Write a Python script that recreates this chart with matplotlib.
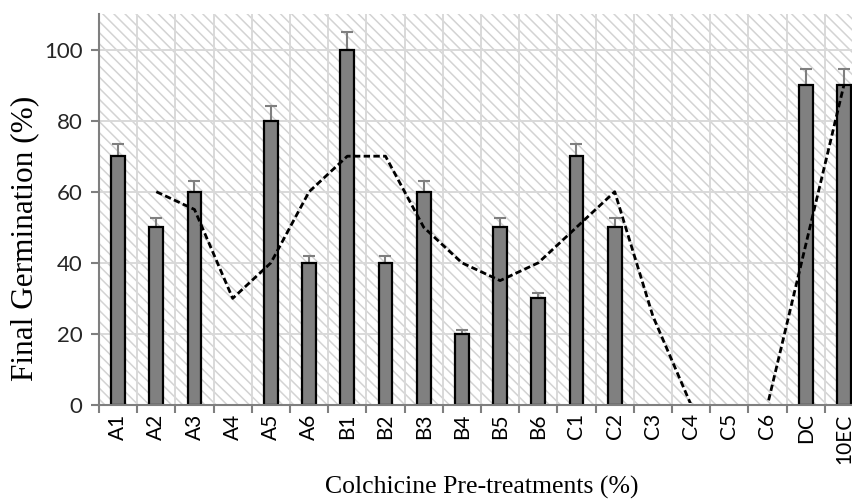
import matplotlib
matplotlib.use("Agg")
import matplotlib.pyplot as plt
from matplotlib.patches import Rectangle
import numpy as np

categories = ["A1", "A2", "A3", "A4", "A5", "A6", "B1", "B2", "B3", "B4",
              "B5", "B6", "C1", "C2", "C3", "C4", "C5", "C6", "DC", "10EC"]
germination = [70, 50, 60, 0, 80, 40, 100, 40, 60, 20,
               50, 30, 70, 50, 0, 0, 0, 0, 90, 90]
err_upper = [3.5, 2.5, 3.0, 0, 4.0, 2.0, 5.0, 2.0, 3.0, 1.0,
             2.5, 1.5, 3.5, 2.5, 0, 0, 0, 0, 4.5, 4.5]
# dashed trend line (starts at A2)
trend = [np.nan, 60, 55, 30, 40, 60, 70, 70, 50, 40,
         35, 40, 50, 60, 25, 0, 0, 0, 45, 90]
yticks = [0, 20, 40, 60, 80, 100]

plt.rcParams['hatch.linewidth'] = 1.1

fig = plt.figure(figsize=(8.53, 5.0), dpi=100)
ax = fig.add_axes([99/853, 1-405/500, (863-99)/853, (405-14)/500])

x = np.arange(len(categories))
ax.set_xlim(-0.5, len(categories) - 0.5)
ax.set_ylim(0, 110)

# hatched background
bg = Rectangle((0, 0), 1, 1, transform=ax.transAxes, facecolor='white',
               edgecolor='#d3d3d3', linewidth=0, hatch='\\\\\\', zorder=0)
ax.add_patch(bg)
ax.set_facecolor('white')

# gridlines
for b in np.arange(-0.5, len(categories) + 0.5, 1.0):
    ax.axvline(b, color='#d9d9d9', lw=1.4, zorder=1)
for t in yticks:
    ax.axhline(t, color='#d9d9d9', lw=1.4, zorder=1)

lws = [1.6 if g > 0 else 0 for g in germination]
ax.bar(x, germination, width=0.36, color='#808080', edgecolor='black',
       linewidth=lws, zorder=3)
nz = [i for i in range(len(categories)) if germination[i] > 0]
ax.errorbar([x[i] for i in nz], [germination[i] for i in nz],
            yerr=[[0]*len(nz), [err_upper[i] for i in nz]],
            fmt='none', ecolor='#7f7f7f', elinewidth=1.5, capsize=4.5,
            capthick=1.5, zorder=2.5)

line, = ax.plot(x, trend, color='black', lw=2.0, ls=(0, (2.3, 1.2)), zorder=4)
clip = Rectangle((-0.5, 0.5), len(categories), 200, transform=ax.transData)
line.set_clip_path(clip)

for s in ['top', 'right']:
    ax.spines[s].set_visible(False)
for s in ['left', 'bottom']:
    ax.spines[s].set_color('#7f7f7f')
    ax.spines[s].set_linewidth(1.5)
    ax.spines[s].set_zorder(5)

ax.set_yticks(yticks)
ax.set_yticklabels([str(t) for t in yticks], family='Lato', fontsize=16,
                   color='#262626')
ax.set_xticks(x)
ax.set_xticklabels(categories, rotation=90, family='Lato', fontsize=15,
                   color='black')
ax.set_xticks(np.arange(-0.5, len(categories) + 0.5, 1.0), minor=True)
ax.tick_params(axis='x', which='major', length=0, pad=6)
ax.tick_params(axis='x', which='minor', length=6, width=1.5, color='#7f7f7f',
               direction='out')
ax.tick_params(axis='y', which='major', length=6, width=1.5, color='#7f7f7f',
               direction='out', pad=6)

ax.set_ylabel("Final Germination (%)", family='Liberation Serif', fontsize=22.5)
ax.yaxis.set_label_coords(-(99-39)/(863-99), (405-238.5)/391)
ax.set_xlabel("Colchicine Pre-treatments (%)", family='Liberation Serif',
              fontsize=18.5)
ax.xaxis.set_label_coords((482-99)/(863-99), -(476-405)/391)

fig.savefig("out.png", dpi=100)
